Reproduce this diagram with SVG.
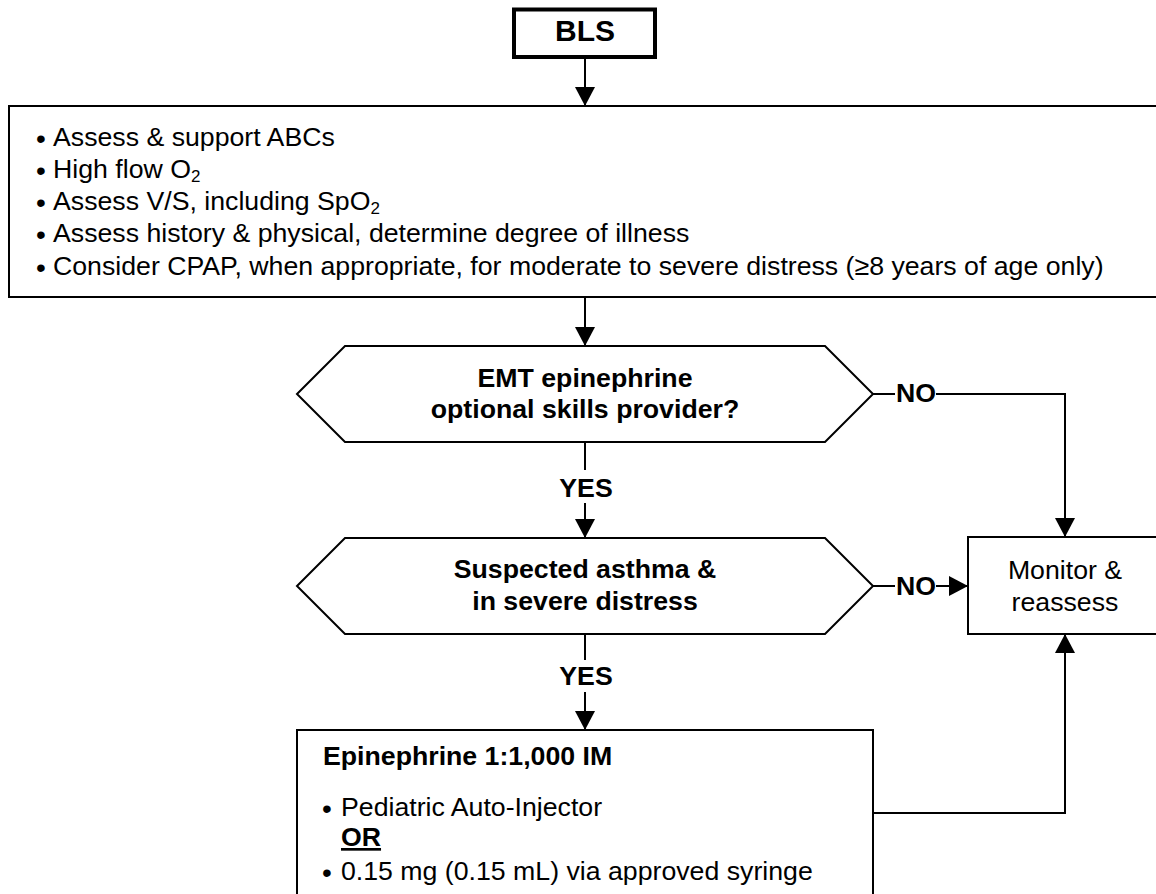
<svg xmlns="http://www.w3.org/2000/svg" width="1156" height="894" viewBox="0 0 1156 894">
<style>
.box{fill:#fff;stroke:#000;stroke-width:2}
.t{font-family:"Liberation Sans",Arial,sans-serif;font-size:26.7px;fill:#000}
.b{font-weight:bold}
.c{stroke:#000;stroke-width:2;fill:none}
.bul{font-size:28px}
.sub{font-size:17px}
</style>
<defs>
<marker id="ah" markerUnits="userSpaceOnUse" markerWidth="19" markerHeight="20" viewBox="0 0 19 20" refX="19" refY="10" orient="auto">
<path d="M0,0 L19,10 L0,20 z" fill="#000"/>
</marker>
</defs>
<g id="bls">
<rect x="514" y="9.5" width="141" height="47.5" fill="#fff" stroke="#000" stroke-width="4"/>
<text class="t b" x="585" y="41" text-anchor="middle" style="font-size:30px">BLS</text>
</g>
<g id="assess">
<rect class="box" x="9" y="106" width="1160" height="191"/>
<text class="t" y="145.5"><tspan class="bul" x="36" dy="2">•</tspan><tspan x="53" dy="-2">Assess &amp; support ABCs</tspan></text>
<text class="t" y="178"><tspan class="bul" x="36" dy="2">•</tspan><tspan x="53" dy="-2">High flow O</tspan><tspan class="sub" dy="4">2</tspan></text>
<text class="t" y="210"><tspan class="bul" x="36" dy="2">•</tspan><tspan x="53" dy="-2">Assess V/S, including SpO</tspan><tspan class="sub" dy="4">2</tspan></text>
<text class="t" y="242"><tspan class="bul" x="36" dy="2">•</tspan><tspan x="53" dy="-2">Assess history &amp; physical, determine degree of illness</tspan></text>
<text class="t" y="275"><tspan class="bul" x="36" dy="2">•</tspan><tspan x="53" dy="-2">Consider CPAP, when appropriate, for moderate to severe distress (≥8 years of age only)</tspan></text>
</g>
<g id="emt">
<polygon class="box" points="297,394 345,346 825,346 873,394 825,442 345,442"/>
<text class="t b" x="585" y="387" text-anchor="middle">EMT epinephrine</text>
<text class="t b" x="585" y="418" text-anchor="middle">optional skills provider?</text>
</g>
<g id="asthma">
<polygon class="box" points="297,586 345,538 825,538 873,586 825,634 345,634"/>
<text class="t b" x="585" y="578" text-anchor="middle">Suspected asthma &amp;</text>
<text class="t b" x="585" y="610" text-anchor="middle">in severe distress</text>
</g>
<g id="monitor">
<rect class="box" x="968" y="537" width="200" height="97"/>
<text class="t" x="1065" y="579" text-anchor="middle">Monitor &amp;</text>
<text class="t" x="1065" y="611" text-anchor="middle">reassess</text>
</g>
<g id="epinephrine">
<rect class="box" x="297" y="730" width="576" height="200"/>
<text class="t b" x="323" y="765">Epinephrine 1:1,000 IM</text>
<text class="t" y="815.5"><tspan class="bul" x="322" dy="2">•</tspan><tspan x="341" dy="-2">Pediatric Auto-Injector</tspan></text>
<text class="t b" x="341" y="846" text-decoration="underline">OR</text>
<text class="t" y="880"><tspan class="bul" x="322" dy="2">•</tspan><tspan x="341" dy="-2">0.15 mg (0.15 mL) via approved syringe</tspan></text>
</g>
<g id="connectors">
<path class="c" d="M585,57 L585,106" marker-end="url(#ah)"/>
<path class="c" d="M585,297 L585,346" marker-end="url(#ah)"/>
<path class="c" d="M585,442 L585,470"/>
<path class="c" d="M585,503 L585,538" marker-end="url(#ah)"/>
<path class="c" d="M585,634 L585,660"/>
<path class="c" d="M585,692 L585,730" marker-end="url(#ah)"/>
<path class="c" d="M873,394 L895,394"/>
<path class="c" d="M936,394 L1065,394 L1065,537" marker-end="url(#ah)"/>
<path class="c" d="M873,586 L895,586"/>
<path class="c" d="M936,586 L968,586" marker-end="url(#ah)"/>
<path class="c" d="M873,813 L1065,813 L1065,634" marker-end="url(#ah)"/>
<text class="t b" x="586" y="497" text-anchor="middle">YES</text>
<text class="t b" x="586" y="685" text-anchor="middle">YES</text>
<text class="t b" x="916" y="402" text-anchor="middle">NO</text>
<text class="t b" x="916" y="595" text-anchor="middle">NO</text>
</g>
</svg>
